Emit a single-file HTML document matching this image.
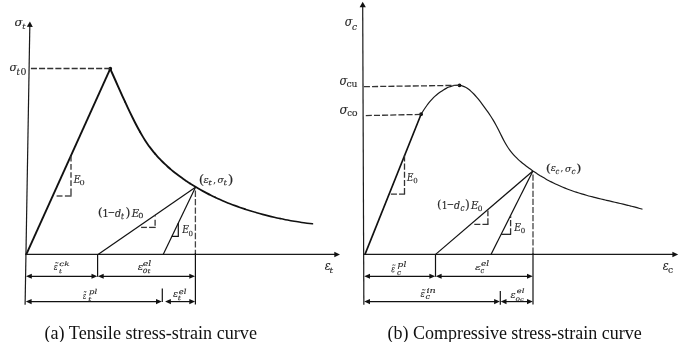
<!DOCTYPE html>
<html><head><meta charset="utf-8"><style>
html,body{margin:0;padding:0;background:#fff;width:685px;height:342px;overflow:hidden}
svg{display:block}
.ax{stroke:#1a1a1a;stroke-width:1.2;fill:none}
.thin{stroke:#111;stroke-width:1.2;fill:none}
.thick{stroke:#111;stroke-width:1.9;fill:none}
.mid{stroke:#1a1a1a;stroke-width:1.2;fill:none}
.dash{stroke:#333;stroke-width:1.3;stroke-dasharray:6.05 2.1;fill:none}
.seg{stroke:#333;stroke-width:1.3;fill:none}
.vdash{stroke:#444;stroke-width:1.3;stroke-dasharray:7.4 2.3;fill:none}
.dash2{stroke:#333;stroke-width:1.2;stroke-dasharray:4 2;fill:none}
polygon,circle{fill:#111}
g.m{font-family:"DejaVu Serif",serif;fill:#2a2a2a;stroke:#2a2a2a;stroke-linejoin:round}
text.cap{font-family:"Liberation Serif",serif;font-size:18px;fill:#111}
</style></head><body>
<svg width="685" height="342" viewBox="0 0 685 342">
<line x1="25.1" y1="304.7" x2="29.83" y2="25" class="ax"/>
<polygon points="29.90,21.60 32.81,26.95 26.81,26.85"/>
<line x1="25.2" y1="254.4" x2="335.5" y2="254.4" class="ax"/>
<polygon points="340.00,254.40 334.30,257.15 334.30,251.65"/>
<line x1="26.30" y1="254.40" x2="110.30" y2="68.70" class="thick"/>
<path d="M110.20,68.80 C111.02,70.61 111.84,72.43 112.67,74.26 C113.49,76.09 114.31,77.92 115.13,79.76 C115.96,81.60 116.78,83.45 117.60,85.29 C118.42,87.13 119.24,88.97 120.07,90.81 C120.89,92.64 121.71,94.47 122.53,96.29 C123.36,98.11 124.18,99.92 125.00,101.71" class="thick" style="stroke-width:1.93;stroke-linecap:round" fill="none"/>
<path d="M125.00,101.71 C125.83,103.53 126.67,105.34 127.50,107.12 C128.33,108.90 129.17,110.67 130.00,112.40 C130.83,114.14 131.67,115.85 132.50,117.54 C133.33,119.22 134.17,120.88 135.00,122.50 C135.83,124.12 136.67,125.71 137.50,127.27 C138.33,128.82 139.17,130.34 140.00,131.81" class="thick" style="stroke-width:1.90;stroke-linecap:round" fill="none"/>
<path d="M140.00,131.81 C140.83,133.29 141.67,134.72 142.50,136.12 C143.33,137.51 144.17,138.86 145.00,140.16 C145.83,141.46 146.67,142.71 147.50,143.92 C148.33,145.13 149.17,146.29 150.00,147.41 C150.83,148.53 151.67,149.61 152.50,150.66 C153.33,151.70 154.17,152.71 155.00,153.69" class="thick" style="stroke-width:1.87;stroke-linecap:round" fill="none"/>
<path d="M155.00,153.69 C155.83,154.67 156.67,155.61 157.50,156.53 C158.33,157.45 159.17,158.34 160.00,159.20 C160.83,160.07 161.67,160.91 162.50,161.73 C163.33,162.56 164.17,163.36 165.00,164.15 C165.83,164.93 166.67,165.70 167.50,166.45 C168.33,167.20 169.17,167.94 170.00,168.65" class="thick" style="stroke-width:1.83;stroke-linecap:round" fill="none"/>
<path d="M170.00,168.65 C171.11,169.61 172.22,170.54 173.33,171.44 C174.44,172.35 175.56,173.23 176.67,174.08 C177.78,174.94 178.89,175.77 180.00,176.58 C181.11,177.39 182.22,178.19 183.33,178.96 C184.44,179.74 185.56,180.49 186.67,181.24 C187.78,181.98 188.89,182.71 190.00,183.42" class="thick" style="stroke-width:1.79;stroke-linecap:round" fill="none"/>
<path d="M190.00,183.42 C191.39,184.31 192.78,185.18 194.17,186.03 C195.56,186.88 196.94,187.71 198.33,188.52 C199.72,189.32 201.11,190.11 202.50,190.88 C203.89,191.65 205.28,192.39 206.67,193.12 C208.06,193.85 209.44,194.56 210.83,195.25 C212.22,195.95 213.61,196.62 215.00,197.28" class="thick" style="stroke-width:1.74;stroke-linecap:round" fill="none"/>
<path d="M215.00,197.28 C216.67,198.07 218.33,198.83 220.00,199.57 C221.67,200.31 223.33,201.03 225.00,201.73 C226.67,202.42 228.33,203.10 230.00,203.75 C231.67,204.41 233.33,205.04 235.00,205.66 C236.67,206.27 238.33,206.87 240.00,207.45 C241.67,208.03 243.33,208.59 245.00,209.14" class="thick" style="stroke-width:1.68;stroke-linecap:round" fill="none"/>
<path d="M245.00,209.14 C246.94,209.78 248.89,210.39 250.83,210.99 C252.78,211.59 254.72,212.17 256.67,212.73 C258.61,213.29 260.56,213.83 262.50,214.35 C264.44,214.87 266.39,215.38 268.33,215.86 C270.28,216.35 272.22,216.82 274.17,217.27 C276.11,217.72 278.06,218.15 280.00,218.56" class="thick" style="stroke-width:1.61;stroke-linecap:round" fill="none"/>
<path d="M280.00,218.56 C281.81,218.95 283.61,219.32 285.42,219.67 C287.22,220.02 289.03,220.36 290.83,220.69 C292.64,221.01 294.44,221.32 296.25,221.61 C298.06,221.90 299.86,222.18 301.67,222.45 C303.47,222.71 305.28,222.96 307.08,223.19 C308.89,223.43 310.69,223.65 312.50,223.85" class="thick" style="stroke-width:1.54;stroke-linecap:round" fill="none"/>
<circle cx="110.30" cy="68.70" r="1.85"/>
<line x1="30.9" y1="68.5" x2="110" y2="68.5" class="dash"/>
<line x1="71.00" y1="156.00" x2="71.00" y2="161.60" class="seg"/><line x1="71.00" y1="164.10" x2="71.00" y2="169.70" class="seg"/><line x1="71.00" y1="172.20" x2="71.00" y2="177.80" class="seg"/><line x1="71.00" y1="180.30" x2="71.00" y2="185.90" class="seg"/><line x1="71.00" y1="188.40" x2="71.00" y2="195.50" class="seg"/>
<line x1="56.60" y1="196.00" x2="62.50" y2="196.00" class="seg"/><line x1="64.90" y1="196.00" x2="71.60" y2="196.00" class="seg"/>
<line x1="195.5" y1="187.3" x2="98.0" y2="254.4" class="thin"/>
<line x1="195.5" y1="187.3" x2="163.2" y2="254.4" class="thin"/>
<line x1="195.4" y1="190.5" x2="195.4" y2="254.4" class="vdash" style="stroke-dasharray:6.4 2.05"/>
<line x1="195.4" y1="253" x2="195.4" y2="304.6" class="thin"/>
<line x1="155.10" y1="215.10" x2="155.10" y2="216.40" class="seg"/><line x1="155.10" y1="219.70" x2="155.10" y2="225.80" class="seg"/>
<line x1="141.10" y1="227.40" x2="146.90" y2="227.40" class="seg"/><line x1="149.10" y1="227.40" x2="155.70" y2="227.40" class="seg"/>
<polyline points="178.3,223.0 178.3,236.3 171.8,236.3" class="thin" fill="none"/>
<line x1="97.6" y1="254.4" x2="97.6" y2="276.8" class="thin"/>
<line x1="162.3" y1="288.6" x2="162.3" y2="302.0" class="thin"/>
<line x1="30.80" y1="276.30" x2="92.50" y2="276.30" class="thin"/><polygon points="26.00,276.30 31.80,273.75 31.80,278.85"/><polygon points="97.30,276.30 91.50,278.85 91.50,273.75"/>
<line x1="102.70" y1="276.30" x2="190.30" y2="276.30" class="thin"/><polygon points="97.90,276.30 103.70,273.75 103.70,278.85"/><polygon points="195.10,276.30 189.30,278.85 189.30,273.75"/>
<line x1="30.60" y1="301.60" x2="157.00" y2="301.60" class="thin"/><polygon points="25.80,301.60 31.60,299.05 31.60,304.15"/><polygon points="161.80,301.60 156.00,304.15 156.00,299.05"/>
<line x1="169.90" y1="301.60" x2="190.30" y2="301.60" class="thin"/><polygon points="165.10,301.60 170.90,299.05 170.90,304.15"/><polygon points="195.10,301.60 189.30,304.15 189.30,299.05"/>
<line x1="363.85" y1="304.7" x2="362.7" y2="5" class="ax"/>
<polygon points="362.70,1.70 365.82,7.29 359.62,7.31"/>
<line x1="363.3" y1="254.45" x2="673" y2="254.45" class="ax"/>
<polygon points="678.20,254.45 672.40,257.25 672.40,251.65"/>
<line x1="365.00" y1="254.40" x2="421.10" y2="114.20" class="thick" style="stroke-width:1.65"/>
<path d="M421.30,114.03 C422.22,112.43 423.14,110.92 424.06,109.51 C424.99,108.09 425.91,106.76 426.83,105.50 C427.75,104.25 428.67,103.08 429.60,101.98 C430.52,100.88 431.44,99.85 432.36,98.88 C433.28,97.92 434.20,97.02 435.12,96.17 C436.05,95.33 436.97,94.55 437.89,93.81 C438.81,93.07 439.73,92.39 440.66,91.74 C441.58,91.10 442.50,90.50 443.42,89.93 C444.34,89.37 445.26,88.85 446.19,88.37 C447.11,87.89 448.03,87.45 448.95,87.07 C449.87,86.69 450.79,86.36 451.72,86.09 C452.64,85.83 453.56,85.62 454.48,85.47 C455.40,85.33 456.32,85.25 457.25,85.25 C458.17,85.24 459.09,85.31 460.01,85.45 C460.93,85.60 461.85,85.82 462.77,86.14 C463.70,86.45 464.62,86.84 465.54,87.33 C466.46,87.82 467.38,88.41 468.31,89.08 C469.23,89.75 470.15,90.50 471.07,91.33 C471.99,92.15 472.91,93.05 473.84,94.02 C474.76,94.98 475.68,96.00 476.60,97.07 C477.52,98.15 478.44,99.27 479.37,100.43 C480.29,101.59 481.21,102.79 482.13,104.02 C483.05,105.25 483.97,106.50 484.89,107.77 C485.82,109.04 486.74,110.32 487.66,111.64 C488.58,112.96 489.50,114.31 490.43,115.72 C491.35,117.13 492.27,118.58 493.19,120.11 C494.11,121.64 495.03,123.25 495.95,124.94 C496.88,126.63 497.80,128.43 498.72,130.27 C499.64,132.12 500.56,134.00 501.49,135.86 C502.41,137.71 503.33,139.53 504.25,141.23 C505.17,142.94 506.09,144.52 507.01,146.00 C507.94,147.47 508.86,148.83 509.78,150.09 C510.70,151.36 511.62,152.53 512.54,153.62 C513.47,154.72 514.39,155.73 515.31,156.68 C516.23,157.64 517.15,158.53 518.08,159.38 C519.00,160.22 519.92,161.02 520.84,161.79 C521.76,162.56 522.68,163.31 523.61,164.04 C524.53,164.76 525.45,165.48 526.37,166.18 C527.29,166.88 528.21,167.57 529.13,168.24 C530.06,168.91 530.98,169.57 531.90,170.21 C532.82,170.86 533.74,171.49 534.66,172.11 C535.59,172.72 536.51,173.33 537.43,173.92 C538.35,174.51 539.27,175.09 540.19,175.66 C541.12,176.22 542.04,176.78 542.96,177.32 C543.88,177.86 544.80,178.39 545.73,178.91 C546.65,179.42 547.57,179.93 548.49,180.42 C549.41,180.92 550.33,181.40 551.25,181.87 C552.18,182.34 553.10,182.80 554.02,183.25 C554.94,183.70 555.86,184.14 556.78,184.56 C557.71,184.99 558.63,185.41 559.55,185.82 C560.47,186.22 561.39,186.62 562.32,187.01 C563.24,187.39 564.16,187.77 565.08,188.14 C566.00,188.50 566.92,188.86 567.85,189.21 C568.77,189.56 569.69,189.90 570.61,190.24 C571.53,190.57 572.45,190.89 573.38,191.21 C574.30,191.53 575.22,191.84 576.14,192.14 C577.06,192.44 577.98,192.74 578.90,193.03 C579.83,193.32 580.75,193.60 581.67,193.88 C582.59,194.15 583.51,194.43 584.43,194.69 C585.36,194.96 586.28,195.22 587.20,195.47 C588.12,195.73 589.04,195.98 589.97,196.22 C590.89,196.47 591.81,196.71 592.73,196.95 C593.65,197.19 594.57,197.42 595.50,197.65 C596.42,197.88 597.34,198.11 598.26,198.33 C599.18,198.56 600.10,198.78 601.02,199.00 C601.95,199.22 602.87,199.44 603.79,199.66 C604.71,199.87 605.63,200.09 606.55,200.30 C607.48,200.52 608.40,200.73 609.32,200.94 C610.24,201.15 611.16,201.36 612.09,201.58 C613.01,201.79 613.93,202.00 614.85,202.21 C615.77,202.42 616.69,202.64 617.62,202.85 C618.54,203.06 619.46,203.28 620.38,203.50 C621.30,203.71 622.22,203.93 623.14,204.15 C624.07,204.37 624.99,204.60 625.91,204.82 C626.83,205.05 627.75,205.27 628.67,205.51 C629.60,205.74 630.52,205.97 631.44,206.21 C632.36,206.45 633.28,206.69 634.20,206.94 C635.13,207.19 636.05,207.44 636.97,207.69 C637.89,207.95 638.81,208.21 639.74,208.48 C640.66,208.74 641.58,209.02 642.50,209.30" class="mid" fill="none"/>
<circle cx="421.10" cy="114.20" r="1.85"/>
<circle cx="459.50" cy="85.30" r="1.85"/>
<line x1="363.9" y1="86.7" x2="459.5" y2="85.3" class="dash"/>
<line x1="365.8" y1="115.6" x2="421.3" y2="114.4" class="dash"/>
<line x1="404.5" y1="194.1" x2="404.5" y2="154.5" class="dash"/>
<line x1="405.1" y1="194.1" x2="389.8" y2="194.1" class="dash"/>
<line x1="532.9" y1="171" x2="435.6" y2="254.4" class="thin"/>
<line x1="532.9" y1="171" x2="491.0" y2="254.4" class="thin"/>
<line x1="533.0" y1="174.5" x2="533.0" y2="254.4" class="vdash" style="stroke-dasharray:6.2 1.9"/>
<line x1="533.0" y1="253" x2="533.0" y2="304.6" class="thin"/>
<line x1="487.9" y1="224.3" x2="487.9" y2="210.5" class="dash"/>
<line x1="488.5" y1="224.3" x2="473.3" y2="224.3" class="dash"/>
<line x1="510.6" y1="234.3" x2="510.6" y2="215.7" class="dash"/>
<line x1="511.1" y1="234.3" x2="501.2" y2="234.3" class="thin"/>
<line x1="435.5" y1="254.4" x2="435.5" y2="276.8" class="thin"/>
<line x1="500.3" y1="291" x2="500.3" y2="304.7" class="thin"/>
<line x1="369.00" y1="276.30" x2="430.40" y2="276.30" class="thin"/><polygon points="364.20,276.30 370.00,273.75 370.00,278.85"/><polygon points="435.20,276.30 429.40,278.85 429.40,273.75"/>
<line x1="440.60" y1="276.30" x2="528.00" y2="276.30" class="thin"/><polygon points="435.80,276.30 441.60,273.75 441.60,278.85"/><polygon points="532.80,276.30 527.00,278.85 527.00,273.75"/>
<line x1="369.00" y1="301.60" x2="495.10" y2="301.60" class="thin"/><polygon points="364.20,301.60 370.00,299.05 370.00,304.15"/><polygon points="499.90,301.60 494.10,304.15 494.10,299.05"/>
<line x1="505.50" y1="301.60" x2="528.00" y2="301.60" class="thin"/><polygon points="500.70,301.60 506.50,299.05 506.50,304.15"/><polygon points="532.80,301.60 527.00,304.15 527.00,299.05"/>
<g class="m" stroke-width="0.126" transform="matrix(1.1846 0 0 1.1907 14.46 26.00)"><text x="0.00" y="0.00" font-size="10.00" font-style="italic">σ</text></g>
<g class="m" stroke-width="0.182" transform="matrix(0.8296 0 0 0.8143 22.33 28.75)"><text x="0.00" y="0.00" font-size="10.00" font-style="italic">t</text></g>
<g class="m" stroke-width="0.136" transform="matrix(1.1000 0 0 1.1070 9.45 70.86)"><text x="0.00" y="0.00" font-size="10.00" font-style="italic">σ</text></g>
<g class="m" stroke-width="0.168" transform="matrix(0.8593 0 0 0.9286 16.41 74.63)"><text x="0.00" y="0.00" font-size="10.00" font-style="italic">t</text></g>
<g class="m" stroke-width="0.163" transform="matrix(0.9366 0 0 0.9049 20.56 74.64)"><text x="0.00" y="0.00" font-size="10.00" font-style="normal">0</text></g>
<g class="m" stroke-width="0.151" transform="matrix(0.9241 0 0 1.0712 73.77 182.75)"><text x="0.00" y="0.00" font-size="10.00" font-style="italic">E</text></g>
<g class="m" stroke-width="0.201" transform="matrix(0.8195 0 0 0.6820 79.54 185.16)"><text x="0.00" y="0.00" font-size="10.00" font-style="normal">0</text></g>
<g class="m" stroke-width="0.147" transform="matrix(0.9241 0 0 1.1254 182.17 233.35)"><text x="0.00" y="0.00" font-size="10.00" font-style="italic">E</text></g>
<g class="m" stroke-width="0.213" transform="matrix(0.7024 0 0 0.7082 188.61 235.76)"><text x="0.00" y="0.00" font-size="10.00" font-style="normal">0</text></g>
<g class="m" stroke-width="0.128" transform="matrix(1.0947 0 0 1.2545 324.68 270.44)"><text x="0.00" y="0.00" font-size="10.00" font-style="italic">ε</text></g>
<g class="m" stroke-width="0.176" transform="matrix(0.8889 0 0 0.8143 329.49 272.95)"><text x="0.00" y="0.00" font-size="10.00" font-style="italic">t</text></g>
<g class="m" stroke-width="0.176" transform="matrix(0.7333 0 0 0.9939 53.87 270.00)"><text x="0.00" y="0.00" font-size="10.00" font-style="italic">ε</text><text x="1.20" y="-5.20" font-size="7.00" font-style="normal">~</text></g>
<g class="m" stroke-width="0.200" transform="matrix(0.8930 0 0 0.6323 59.22 265.87)"><text x="0.00" y="0.00" font-size="10.00" font-style="italic">ck</text></g>
<g class="m" stroke-width="0.228" transform="matrix(0.7407 0 0 0.5857 58.89 272.68)"><text x="0.00" y="0.00" font-size="10.00" font-style="italic">t</text></g>
<g class="m" stroke-width="0.153" transform="matrix(1.0105 0 0 0.9455 137.70 270.31)"><text x="0.00" y="0.00" font-size="10.00" font-style="italic">ε</text></g>
<g class="m" stroke-width="0.180" transform="matrix(0.9455 0 0 0.7355 142.70 265.86)"><text x="0.00" y="0.00" font-size="10.00" font-style="italic">el</text></g>
<g class="m" stroke-width="0.226" transform="matrix(0.7494 0 0 0.5902 142.68 273.08)"><text x="0.00" y="0.00" font-size="10.00" font-style="italic">0t</text></g>
<g class="m" stroke-width="0.198" transform="matrix(0.5833 0 0 0.9818 82.90 299.00)"><text x="0.00" y="0.00" font-size="10.00" font-style="italic">ε</text><text x="1.20" y="-5.20" font-size="7.00" font-style="normal">~</text></g>
<g class="m" stroke-width="0.195" transform="matrix(0.8464 0 0 0.6961 89.03 294.26)"><text x="0.00" y="0.00" font-size="10.00" font-style="italic">pl</text></g>
<g class="m" stroke-width="0.222" transform="matrix(0.8000 0 0 0.5714 88.15 301.28)"><text x="0.00" y="0.00" font-size="10.00" font-style="italic">t</text></g>
<g class="m" stroke-width="0.154" transform="matrix(0.9474 0 0 1.0000 172.91 297.10)"><text x="0.00" y="0.00" font-size="10.00" font-style="italic">ε</text></g>
<g class="m" stroke-width="0.197" transform="matrix(0.8485 0 0 0.6839 178.73 293.76)"><text x="0.00" y="0.00" font-size="10.00" font-style="italic">el</text></g>
<g class="m" stroke-width="0.217" transform="matrix(0.8000 0 0 0.6000 177.65 299.77)"><text x="0.00" y="0.00" font-size="10.00" font-style="italic">t</text></g>
<g class="m" stroke-width="0.129" transform="matrix(1.1231 0 0 1.2093 344.69 26.20)"><text x="0.00" y="0.00" font-size="10.00" font-style="italic">σ</text></g>
<g class="m" stroke-width="0.160" transform="matrix(0.9000 0 0 0.9818 352.11 29.53)"><text x="0.00" y="0.00" font-size="10.00" font-style="italic">c</text></g>
<g class="m" stroke-width="0.123" transform="matrix(1.1385 0 0 1.3023 339.38 84.59)"><text x="0.00" y="0.00" font-size="10.00" font-style="italic">σ</text></g>
<g class="m" stroke-width="0.163" transform="matrix(0.9169 0 0 0.9273 346.49 87.43)"><text x="0.00" y="0.00" font-size="10.00" font-style="normal">cu</text></g>
<g class="m" stroke-width="0.120" transform="matrix(1.2154 0 0 1.2837 339.54 113.59)"><text x="0.00" y="0.00" font-size="10.00" font-style="italic">σ</text></g>
<g class="m" stroke-width="0.179" transform="matrix(0.8432 0 0 0.8364 347.23 116.25)"><text x="0.00" y="0.00" font-size="10.00" font-style="normal">c</text></g>
<g class="m" stroke-width="0.179" transform="matrix(0.9366 0 0 0.7475 351.76 116.26)"><text x="0.00" y="0.00" font-size="10.00" font-style="normal">0</text></g>
<g class="m" stroke-width="0.154" transform="matrix(0.8690 0 0 1.0983 406.96 180.95)"><text x="0.00" y="0.00" font-size="10.00" font-style="italic">E</text></g>
<g class="m" stroke-width="0.217" transform="matrix(0.7024 0 0 0.6820 413.21 183.36)"><text x="0.00" y="0.00" font-size="10.00" font-style="normal">0</text></g>
<g class="m" stroke-width="0.149" transform="matrix(0.9241 0 0 1.0983 514.17 230.95)"><text x="0.00" y="0.00" font-size="10.00" font-style="italic">E</text></g>
<g class="m" stroke-width="0.213" transform="matrix(0.7024 0 0 0.7082 520.81 233.36)"><text x="0.00" y="0.00" font-size="10.00" font-style="normal">0</text></g>
<g class="m" stroke-width="0.128" transform="matrix(1.0947 0 0 1.2545 662.68 270.44)"><text x="0.00" y="0.00" font-size="10.00" font-style="italic">ε</text></g>
<g class="m" stroke-width="0.167" transform="matrix(0.9081 0 0 0.8909 668.00 273.14)"><text x="0.00" y="0.00" font-size="10.00" font-style="normal">c</text></g>
<g class="m" stroke-width="0.192" transform="matrix(0.6833 0 0 0.8970 391.28 271.83)"><text x="0.00" y="0.00" font-size="10.00" font-style="italic">ε</text><text x="1.20" y="-5.20" font-size="7.00" font-style="normal">~</text></g>
<g class="m" stroke-width="0.188" transform="matrix(0.9043 0 0 0.7065 397.60 266.74)"><text x="0.00" y="0.00" font-size="10.00" font-style="italic">pl</text></g>
<g class="m" stroke-width="0.202" transform="matrix(0.7400 0 0 0.7455 397.07 274.86)"><text x="0.00" y="0.00" font-size="10.00" font-style="italic">c</text></g>
<g class="m" stroke-width="0.160" transform="matrix(1.0947 0 0 0.8000 474.88 270.35)"><text x="0.00" y="0.00" font-size="10.00" font-style="italic">ε</text></g>
<g class="m" stroke-width="0.185" transform="matrix(0.8970 0 0 0.7355 481.01 265.86)"><text x="0.00" y="0.00" font-size="10.00" font-style="italic">el</text></g>
<g class="m" stroke-width="0.214" transform="matrix(0.6600 0 0 0.7455 480.40 272.66)"><text x="0.00" y="0.00" font-size="10.00" font-style="italic">c</text></g>
<g class="m" stroke-width="0.168" transform="matrix(0.8000 0 0 0.9939 420.55 297.20)"><text x="0.00" y="0.00" font-size="10.00" font-style="italic">ε</text><text x="1.20" y="-5.20" font-size="7.00" font-style="normal">~</text></g>
<g class="m" stroke-width="0.169" transform="matrix(0.9672 0 0 0.8136 426.47 293.15)"><text x="0.00" y="0.00" font-size="10.00" font-style="italic">in</text></g>
<g class="m" stroke-width="0.185" transform="matrix(0.8200 0 0 0.8000 425.54 299.45)"><text x="0.00" y="0.00" font-size="10.00" font-style="italic">c</text></g>
<g class="m" stroke-width="0.158" transform="matrix(0.9474 0 0 0.9455 510.51 297.51)"><text x="0.00" y="0.00" font-size="10.00" font-style="italic">ε</text></g>
<g class="m" stroke-width="0.205" transform="matrix(0.8485 0 0 0.6323 516.63 293.37)"><text x="0.00" y="0.00" font-size="10.00" font-style="italic">el</text></g>
<g class="m" stroke-width="0.254" transform="matrix(0.7200 0 0 0.4852 515.49 300.59)"><text x="0.00" y="0.00" font-size="10.00" font-style="italic">0c</text></g>
<g class="m" stroke-width="0.125" transform="matrix(1.2800 0 0 1.1178 97.69 215.97)"><text x="0.00" y="0.00" font-size="10.00" font-style="normal">(</text></g>
<g class="m" stroke-width="0.142" transform="matrix(1.0400 0 0 1.0800 102.25 216.95)"><text x="0.00" y="0.00" font-size="10.00" font-style="normal">1</text></g>
<g class="m" stroke-width="0.155" transform="matrix(0.8800 0 0 1.0667 107.76 215.73)"><text x="0.00" y="0.00" font-size="10.00" font-style="normal">−</text></g>
<g class="m" stroke-width="0.144" transform="matrix(0.9565 0 0 1.1355 114.91 216.81)"><text x="0.00" y="0.00" font-size="10.00" font-style="italic">d</text></g>
<g class="m" stroke-width="0.191" transform="matrix(0.7407 0 0 0.8286 120.99 218.75)"><text x="0.00" y="0.00" font-size="10.00" font-style="italic">t</text></g>
<g class="m" stroke-width="0.121" transform="matrix(1.2632 0 0 1.2164 125.40 217.23)"><text x="0.00" y="0.00" font-size="10.00" font-style="normal">)</text></g>
<g class="m" stroke-width="0.142" transform="matrix(1.0207 0 0 1.0983 131.68 216.75)"><text x="0.00" y="0.00" font-size="10.00" font-style="italic">E</text></g>
<g class="m" stroke-width="0.199" transform="matrix(0.8195 0 0 0.6951 138.14 218.26)"><text x="0.00" y="0.00" font-size="10.00" font-style="normal">0</text></g>
<g class="m" stroke-width="0.130" transform="matrix(1.1600 0 0 1.1397 437.08 207.84)"><text x="0.00" y="0.00" font-size="10.00" font-style="normal">(</text></g>
<g class="m" stroke-width="0.156" transform="matrix(0.9067 0 0 1.0133 441.72 208.65)"><text x="0.00" y="0.00" font-size="10.00" font-style="normal">1</text></g>
<g class="m" stroke-width="0.155" transform="matrix(0.8800 0 0 1.0667 446.76 207.93)"><text x="0.00" y="0.00" font-size="10.00" font-style="normal">−</text></g>
<g class="m" stroke-width="0.146" transform="matrix(0.9565 0 0 1.1097 453.91 208.51)"><text x="0.00" y="0.00" font-size="10.00" font-style="italic">d</text></g>
<g class="m" stroke-width="0.189" transform="matrix(0.7200 0 0 0.8727 460.48 210.84)"><text x="0.00" y="0.00" font-size="10.00" font-style="italic">c</text></g>
<g class="m" stroke-width="0.123" transform="matrix(1.2211 0 0 1.2164 464.93 209.13)"><text x="0.00" y="0.00" font-size="10.00" font-style="normal">)</text></g>
<g class="m" stroke-width="0.142" transform="matrix(1.0207 0 0 1.0983 470.88 208.65)"><text x="0.00" y="0.00" font-size="10.00" font-style="italic">E</text></g>
<g class="m" stroke-width="0.205" transform="matrix(0.7415 0 0 0.7213 477.69 210.86)"><text x="0.00" y="0.00" font-size="10.00" font-style="normal">0</text></g>
<g class="m" stroke-width="0.115" transform="matrix(1.4000 0 0 1.2055 198.70 183.74)"><text x="0.00" y="0.00" font-size="10.00" font-style="normal">(</text></g>
<g class="m" stroke-width="0.157" transform="matrix(0.9684 0 0 0.9455 203.61 182.51)"><text x="0.00" y="0.00" font-size="10.00" font-style="italic">ε</text></g>
<g class="m" stroke-width="0.196" transform="matrix(0.8889 0 0 0.6571 208.29 185.47)"><text x="0.00" y="0.00" font-size="10.00" font-style="italic">t</text></g>
<g class="m" stroke-width="0.166" transform="matrix(0.8533 0 0 0.9600 213.23 183.13)"><text x="0.00" y="0.00" font-size="10.00" font-style="normal">,</text></g>
<g class="m" stroke-width="0.159" transform="matrix(0.9231 0 0 0.9674 217.59 182.63)"><text x="0.00" y="0.00" font-size="10.00" font-style="italic">σ</text></g>
<g class="m" stroke-width="0.193" transform="matrix(0.8593 0 0 0.7000 223.61 185.46)"><text x="0.00" y="0.00" font-size="10.00" font-style="italic">t</text></g>
<g class="m" stroke-width="0.113" transform="matrix(1.4737 0 0 1.2055 227.74 183.74)"><text x="0.00" y="0.00" font-size="10.00" font-style="normal">)</text></g>
<g class="m" stroke-width="0.119" transform="matrix(1.3600 0 0 1.1726 545.63 172.19)"><text x="0.00" y="0.00" font-size="10.00" font-style="normal">(</text></g>
<g class="m" stroke-width="0.157" transform="matrix(0.9684 0 0 0.9455 550.81 171.41)"><text x="0.00" y="0.00" font-size="10.00" font-style="italic">ε</text></g>
<g class="m" stroke-width="0.206" transform="matrix(0.6800 0 0 0.7818 555.50 173.55)"><text x="0.00" y="0.00" font-size="10.00" font-style="italic">c</text></g>
<g class="m" stroke-width="0.164" transform="matrix(0.9067 0 0 0.9200 560.61 171.28)"><text x="0.00" y="0.00" font-size="10.00" font-style="normal">,</text></g>
<g class="m" stroke-width="0.159" transform="matrix(0.9231 0 0 0.9674 564.89 171.53)"><text x="0.00" y="0.00" font-size="10.00" font-style="italic">σ</text></g>
<g class="m" stroke-width="0.197" transform="matrix(0.7400 0 0 0.7818 571.47 173.55)"><text x="0.00" y="0.00" font-size="10.00" font-style="italic">c</text></g>
<g class="m" stroke-width="0.116" transform="matrix(1.4316 0 0 1.1726 575.98 172.19)"><text x="0.00" y="0.00" font-size="10.00" font-style="normal">)</text></g>
<text x="0" y="0" transform="translate(44.5,339.2) scale(1.0085,1)" class="cap">(a) Tensile stress-strain curve</text>
<text x="387.4" y="339.2" class="cap">(b) Compressive stress-strain curve</text>
</svg>
</body></html>
